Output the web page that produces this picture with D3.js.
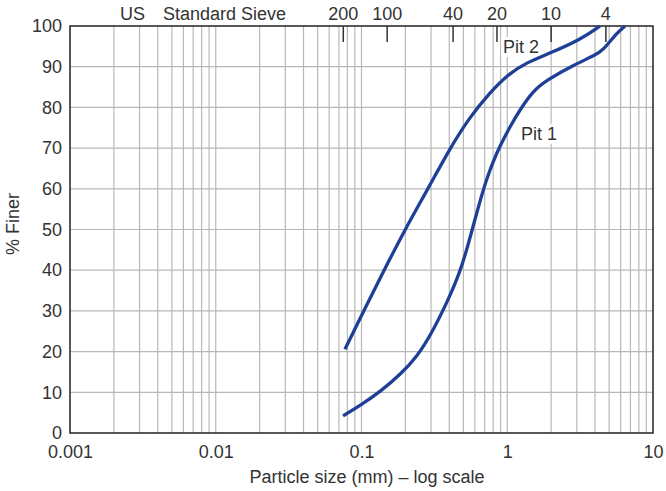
<!DOCTYPE html>
<html>
<head>
<meta charset="utf-8">
<script src="https://cdn.jsdelivr.net/npm/d3@7"></script>
<style>
  body { margin: 0; background: #fff; }
  text { font-family: "Liberation Sans", Arial, sans-serif; fill: #333; }
</style>
</head>
<body>
<div id="chart"></div>
<script>
// grain size distribution
const pit1Size = [0.0747, 0.1, 0.134, 0.189, 0.24, 0.295, 0.394, 0.474, 0.527, 0.585, 0.65, 0.723, 0.802, 0.891, 1.045, 1.222, 1.5, 1.866, 2.84, 4.0, 4.56, 5.64, 6.43];
const pit1Finer = [4.2, 7, 10.1, 14.7, 18.8, 23.7, 32.7, 39.6, 45, 51, 57, 62.5, 66.8, 70.5, 75.3, 79.4, 84, 86.7, 90.4, 92.8, 94.1, 98.3, 100];

const pit2Size = [0.077, 0.103, 0.141, 0.2, 0.287, 0.405, 0.555, 0.75, 1.0, 1.35, 1.96, 3.16, 4.33];
const pit2Finer = [20.6, 29.8, 39.6, 50.2, 60.1, 70, 77.7, 83.4, 88, 91, 93.3, 96.6, 100];

const sieveNumbers = ["200", "100", "40", "20", "10", "4"];
const sieveSizes = [0.075, 0.15, 0.425, 0.85, 2.0, 4.75];

const xTicks = [0.001, 0.01, 0.1, 1, 10];
const xTickLabels = ["0.001", "0.01", "0.1", "1", "10"];
const yTicks = [0, 10, 20, 30, 40, 50, 60, 70, 80, 90, 100];

const width = 666, height = 491;
const margin = { top: 26, right: 13, bottom: 58, left: 70 };
const lineColor = "#1f3f96";
const fs = 18;

const svg = d3.select("#chart")
  .append("svg")
  .attr("width", width)
  .attr("height", height);

const x = d3.scaleLog()
  .domain([0.001, 10])
  .range([margin.left, width - margin.right]);

const y = d3.scaleLinear()
  .domain([0, 100])
  .range([height - margin.bottom, margin.top]);

// minor grid: 1..9 in each decade
const gridX = [];
for (let e = -3; e < 1; e++) {
  for (let k = 2; k <= 9; k++) gridX.push(k * Math.pow(10, e));
}
gridX.push(0.01, 0.1, 1);

svg.append("g")
  .selectAll("line")
  .data(gridX)
  .join("line")
  .attr("x1", d => x(d)).attr("x2", d => x(d))
  .attr("y1", y(0)).attr("y2", y(100))
  .attr("stroke", "#b8b8b8")
  .attr("stroke-width", 1.2);

svg.append("g")
  .selectAll("line")
  .data(yTicks.slice(1, -1))
  .join("line")
  .attr("x1", x(0.001)).attr("x2", x(10))
  .attr("y1", d => y(d)).attr("y2", d => y(d))
  .attr("stroke", "#b8b8b8")
  .attr("stroke-width", 1.2);

// frame
svg.append("rect")
  .attr("x", x(0.001))
  .attr("y", y(100))
  .attr("width", x(10) - x(0.001))
  .attr("height", y(0) - y(100))
  .attr("fill", "none")
  .attr("stroke", "#222")
  .attr("stroke-width", 1.5);

// y axis labels
const yAxis = d3.axisLeft(y).tickValues(yTicks).tickSize(0).tickPadding(8);
svg.append("g")
  .attr("transform", `translate(${margin.left},0)`)
  .call(yAxis)
  .call(g => g.select(".domain").remove())
  .selectAll("text")
  .attr("font-size", fs)
  .attr("font-family", null)
  .attr("fill", null);

// x axis labels
const xAxis = d3.axisBottom(x).tickValues(xTicks).tickFormat((d, i) => xTickLabels[i]).tickSize(0).tickPadding(12);
svg.append("g")
  .attr("transform", `translate(0,${height - margin.bottom})`)
  .call(xAxis)
  .call(g => g.select(".domain").remove())
  .selectAll("text")
  .attr("font-size", fs)
  .attr("font-family", null)
  .attr("fill", null);

// sieve ticks along the top
svg.append("g")
  .selectAll("line")
  .data(sieveSizes)
  .join("line")
  .attr("x1", d => x(d)).attr("x2", d => x(d))
  .attr("y1", y(100)).attr("y2", y(100) + 16)
  .attr("stroke", "#333")
  .attr("stroke-width", 1.5);

svg.append("g")
  .selectAll("text")
  .data(sieveNumbers)
  .join("text")
  .attr("x", (d, i) => x(sieveSizes[i]))
  .attr("y", 20)
  .attr("text-anchor", "middle")
  .attr("font-size", fs)
  .text(d => d);

svg.append("text")
  .attr("x", 120).attr("y", 20)
  .attr("font-size", fs)
  .text("US");
svg.append("text")
  .attr("x", 163).attr("y", 20)
  .attr("font-size", fs)
  .text("Standard Sieve");

// curves
const line = d3.line()
  .x(d => x(d[0]))
  .y(d => y(d[1]))
  .curve(d3.curveBasis);

const series = [
  { name: "Pit 1", pts: d3.zip(pit1Size, pit1Finer), labelX: 521, labelY: 140 },
  { name: "Pit 2", pts: d3.zip(pit2Size, pit2Finer), labelX: 503, labelY: 53 }
];

series.forEach(s => {
  const lbl = svg.append("g");
  const t = lbl.append("text")
    .attr("x", s.labelX).attr("y", s.labelY)
    .attr("font-size", fs)
    .text(s.name);
  const bb = t.node().getBBox();
  lbl.insert("rect", "text")
    .attr("x", bb.x - 2).attr("y", bb.y)
    .attr("width", bb.width + 4).attr("height", bb.height)
    .attr("fill", "#fff");
});

svg.append("g")
  .selectAll("path")
  .data(series)
  .join("path")
  .attr("d", d => line(d.pts))
  .attr("fill", "none")
  .attr("stroke", lineColor)
  .attr("stroke-width", 3.3);

// axis titles
svg.append("text")
  .attr("transform", "translate(19,224) rotate(-90)")
  .attr("text-anchor", "middle")
  .attr("font-size", fs)
  .text("% Finer");

svg.append("text")
  .attr("x", 367).attr("y", 483)
  .attr("text-anchor", "middle")
  .attr("font-size", fs)
  .text("Particle size (mm) \u2013 log scale");
</script>
</body>
</html>
